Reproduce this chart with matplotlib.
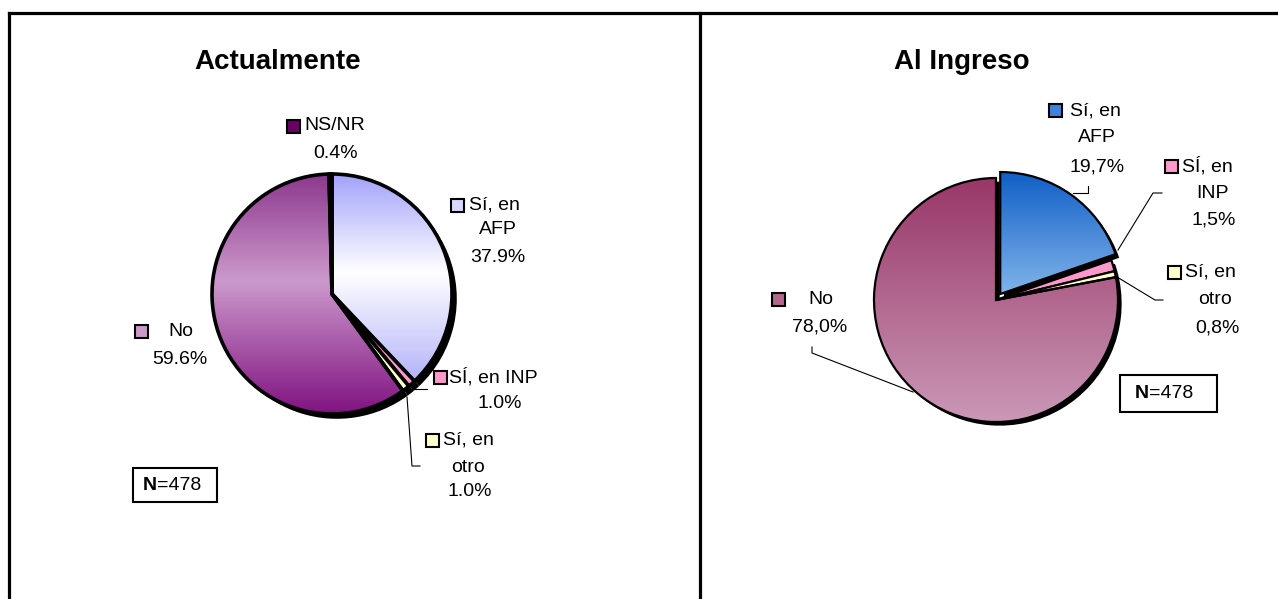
import numpy as np
import matplotlib.pyplot as plt
from matplotlib.colors import LinearSegmentedColormap
from matplotlib.patches import Rectangle

plt.rcParams['font.family'] = ['Liberation Sans', 'DejaVu Sans']

# data
labels_act = ['Sí, en AFP', 'SÍ, en INP', 'Sí, en otro', 'No', 'NS/NR']
pct_act = [37.9, 1.0, 1.0, 59.6, 0.4]
labels_ing = ['Sí, en AFP', 'SÍ, en INP', 'Sí, en otro', 'No']
pct_ing = [19.7, 1.5, 0.8, 78.0]
n_total = 478

W, H = 1278, 599
fig = plt.figure(figsize=(W / 100, H / 100), dpi=100)
LIM = 1.25


def pie_axes(cx, cy, r):
    size = 2 * LIM * r
    ax = fig.add_axes([(cx - size / 2) / W, (H - cy - size / 2) / H, size / W, size / H])
    return ax


def draw_pie(ax, vals, fills, explode, lw, shadow):
    sh, _ = ax.pie(vals, colors=['black'] * len(vals), startangle=90, counterclock=False,
                   explode=explode, center=(shadow, -shadow), wedgeprops=dict(linewidth=0))
    for w in sh:
        w.set_zorder(1)
    wedges, _ = ax.pie(vals, colors=['white'] * len(vals), startangle=90, counterclock=False,
                       explode=explode, wedgeprops=dict(edgecolor='black', linewidth=lw))
    for w, f in zip(wedges, fills):
        if isinstance(f, str):
            w.set_facecolor(f)
            w.set_zorder(3)
        else:
            w.set_facecolor('none')
            w.set_zorder(3)
            cmap = LinearSegmentedColormap.from_list('g', f)
            im = ax.imshow(np.linspace(0, 1, 256).reshape(-1, 1), extent=(-1.1, 1.1, -1.1, 1.1),
                           origin='upper', cmap=cmap, aspect='auto', zorder=2)
            im.set_clip_path(w)
    ax.set_xlim(-LIM, LIM)
    ax.set_ylim(-LIM, LIM)
    ax.set_aspect('equal')
    ax.axis('off')


# left pie - Actualmente
ax1 = pie_axes(332, 294, 120)
fills_act = [[(0, '#9797FB'), (0.42, '#FFFFFF'), (1, '#9494F8')],
             '#FF99CC', '#FFFFCC',
             [(0, '#862E86'), (0.45, '#CC99CC'), (1, '#7A067A')],
             '#660066']
draw_pie(ax1, pct_act, fills_act, [0] * 5, 2.6, 0.04)

# right pie - Al Ingreso
ax2 = pie_axes(996, 300, 122)
fills_ing = [[(0, '#0A5AC4'), (0.5, '#86B8EC'), (1, '#86B8EC')],
             '#FF99CC', '#FFFFCC',
             [(0, '#963264'), (1, '#CD9DBA')]]
draw_pie(ax2, pct_ing, fills_ing, [0.06, 0, 0, 0], 1.6, 0.03)

# overlay in pixel coords
ov = fig.add_axes([0, 0, 1, 1], zorder=5)
ov.set_xlim(0, W)
ov.set_ylim(H, 0)
ov.axis('off')

for xs, ys in [([9, W], [13, 13]), ([9, 9], [13, H]), ([700, 700], [13, H])]:
    ov.plot(xs, ys, color='black', lw=2.3, solid_capstyle='projecting')

FS = 14


def marker(x, y, color):
    ov.add_patch(Rectangle((x - 6.5, y - 6.5), 13, 13, facecolor=color, edgecolor='black', lw=1.5))


def txt(x, y, s, ha='center', **kw):
    ov.text(x, y, s, ha=ha, va='center', fontsize=FS, **kw)


def pct_str(v, comma=False):
    s = f'{v:.1f}%'
    return s.replace('.', ',') if comma else s


# titles
ov.text(278, 62, 'Actualmente', ha='center', va='center', fontsize=20, fontweight='bold')
ov.text(962, 62, 'Al Ingreso', ha='center', va='center', fontsize=20, fontweight='bold')

# left labels
marker(293, 126, '#660066')
txt(304, 125, labels_act[4], ha='left')
txt(336, 153, pct_str(pct_act[4]))

marker(457, 205, '#D8D8FF')
txt(469, 205, 'Sí, en', ha='left')
txt(498, 230, 'AFP')
txt(498, 258, pct_str(pct_act[0]))

marker(440, 377, '#FF99CC')
txt(449, 377, labels_act[1], ha='left')
txt(500, 403, pct_str(pct_act[1]))

marker(432, 440, '#FFFFCC')
txt(443, 440, 'Sí, en', ha='left')
txt(468, 467, 'otro')
txt(470, 492, pct_str(pct_act[2]))

marker(141, 331, '#CC99CC')
txt(168, 331, labels_act[3], ha='left')
txt(180, 359, pct_str(pct_act[3]))

ov.plot([407, 412, 420], [397, 466, 466], color='black', lw=0.8)
ov.plot([410, 427], [389, 389], color='black', lw=0.8)

# right labels
marker(1055, 110, '#3F82D8')
txt(1070, 111, 'Sí, en', ha='left')
txt(1097, 138, 'AFP')
txt(1097, 167, pct_str(pct_ing[0], True))

marker(1171, 166, '#FF99CC')
txt(1182, 166, 'SÍ, en', ha='left')
txt(1212, 193, 'INP')
txt(1214, 220, pct_str(pct_ing[1], True))

marker(1174, 272, '#FFFFCC')
txt(1185, 272, 'Sí, en', ha='left')
txt(1215, 300, 'otro')
txt(1217, 328, pct_str(pct_ing[2], True))

marker(778, 299, '#B5668C')
txt(821, 299, labels_ing[3])
txt(820, 327, pct_str(pct_ing[3], True))

ov.plot([1088, 1088, 1073], [186, 193, 193], color='black', lw=0.8)
ov.plot([1162, 1153, 1118], [193, 193, 250], color='black', lw=0.8)
ov.plot([1163, 1155, 1117], [300, 300, 277], color='black', lw=0.8)
ov.plot([812, 812, 913], [347, 353, 392], color='black', lw=0.8)

# N boxes
for (x0, y0, x1, y1, split, ym) in [(133, 468, 217, 502, 157, 485), (1120, 375, 1217, 412, 1149, 393)]:
    ov.add_patch(Rectangle((x0, y0), x1 - x0, y1 - y0, facecolor='white', edgecolor='black', lw=1.5))
    ov.text(split, ym, 'N', ha='right', va='center', fontsize=FS, fontweight='bold')
    ov.text(split, ym, f'={n_total}', ha='left', va='center', fontsize=FS)

fig.savefig('out.png', dpi=100)
